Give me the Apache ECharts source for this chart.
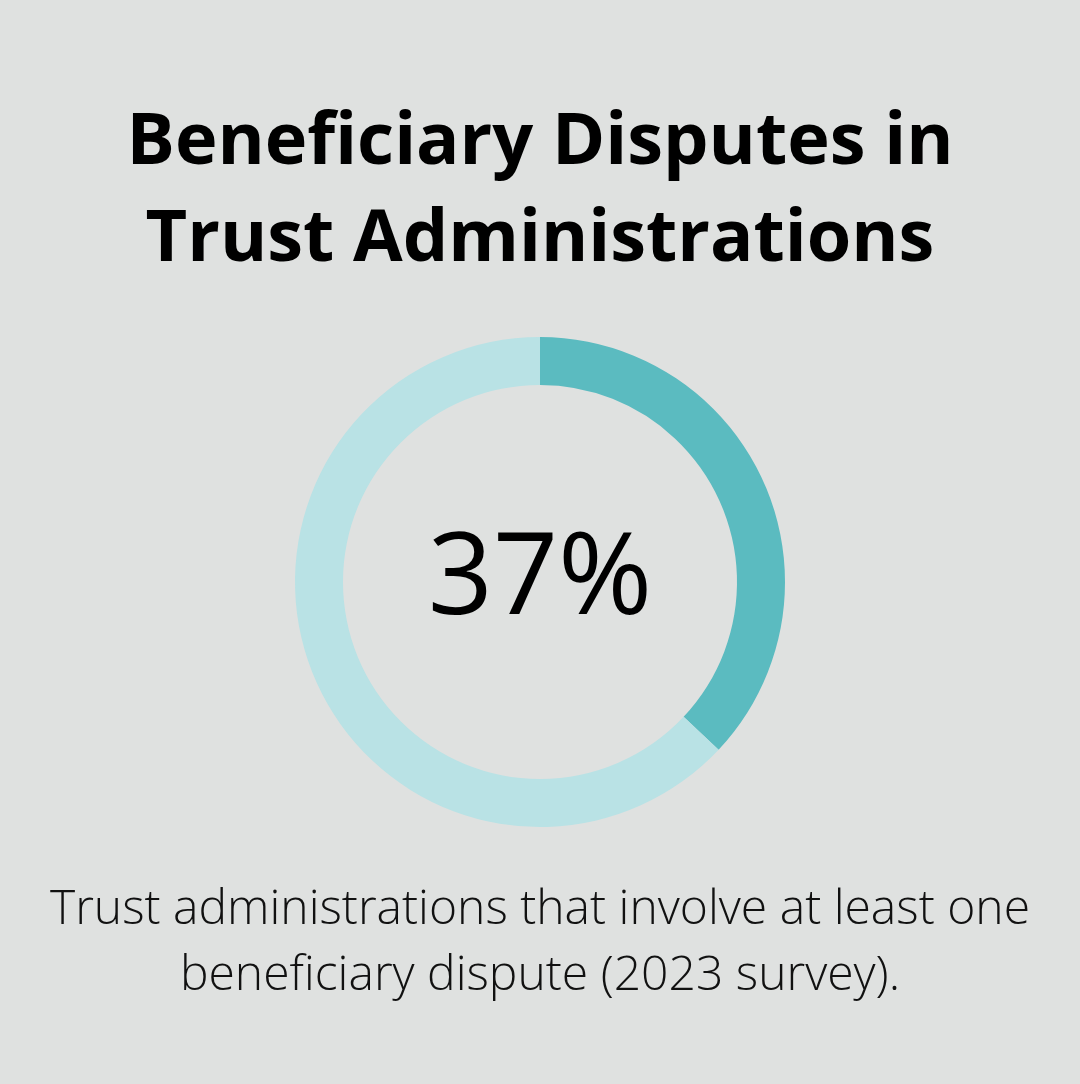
<!DOCTYPE html>
<html>
<head>
<meta charset="utf-8">
<script src="https://cdn.jsdelivr.net/npm/echarts@6/dist/echarts.min.js"></script>
<style>
  html, body { margin: 0; padding: 0; background: #dfe1e0; }
  #chart { width: 1080px; height: 1084px; }
</style>
</head>
<body>
<div id="chart"></div>
<script>
const labels = ['Involve a dispute', 'No dispute'];
const values = [37, 63];
const colors = ['#5bbbc0', '#b9e2e5'];
const titleLines = ['Beneficiary Disputes in', 'Trust Administrations'];
const noteLines = ['Trust administrations that involve at least one', 'beneficiary dispute (2023 survey).'];

const chart = echarts.init(document.getElementById('chart'));

const option = {
  backgroundColor: '#dfe1e0',
  title: [
    {
      text: titleLines.join('\n'),
      left: 'center',
      top: 90,
      textStyle: {
        fontFamily: 'Open Sans',
        fontWeight: 'bold',
        fontSize: 72,
        lineHeight: 97,
        color: '#000'
      }
    },
    {
      text: values[0] + '%',
      left: 'center',
      top: 520,
      textStyle: {
        fontFamily: 'Open Sans',
        fontWeight: 'normal',
        fontSize: 114,
        color: '#000'
      }
    },
    {
      text: noteLines.join('\n'),
      left: 'center',
      top: 872,
      textStyle: {
        fontFamily: 'Open Sans',
        fontWeight: 300,
        fontSize: 48,
        lineHeight: 66,
        color: '#111'
      }
    }
  ],
  series: [
    {
      type: 'pie',
      center: [540, 582],
      radius: [197, 245],
      startAngle: 90,
      clockwise: true,
      silent: true,
      label: { show: false },
      labelLine: { show: false },
      itemStyle: { borderWidth: 0 },
      data: labels.map((name, i) => ({
        name: name,
        value: values[i],
        itemStyle: { color: colors[i] }
      }))
    }
  ]
};

chart.setOption(option);
</script>
</body>
</html>
